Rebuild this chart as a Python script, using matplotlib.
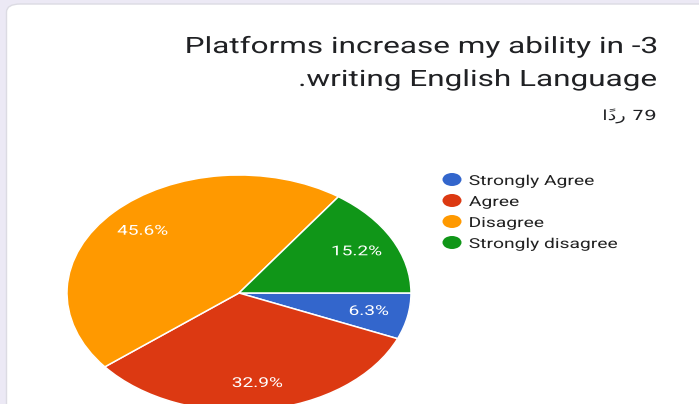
import matplotlib
matplotlib.use("Agg")
import matplotlib.pyplot as plt
from matplotlib.patches import FancyBboxPatch, Ellipse
from matplotlib.patheffects import AbstractPathEffect
from matplotlib.transforms import Affine2D

# Survey responses (79 in total)
categories = ["Strongly Agree", "Agree", "Disagree", "Strongly disagree"]
counts = [5, 26, 36, 12]
colors = ["#3366cc", "#dc3912", "#ff9900", "#109618"]
title_lines = ["Platforms increase my ability in -3", ".writing English Language"]
responses_label = "79 ردًا"

W, H = 699, 404
SX = 1.4  # horizontal stretch of the whole card


class StretchX(AbstractPathEffect):
    """Draw text glyphs widened horizontally around a chosen anchor."""

    def __init__(self, sx, anchor="center"):
        super().__init__()
        self._sx = sx
        self._anchor = anchor

    def draw_path(self, renderer, gc, tpath, affine, rgbFace=None):
        ext = tpath.get_extents(affine)
        x0 = {"left": ext.x0, "right": ext.x1,
              "center": 0.5 * (ext.x0 + ext.x1)}[self._anchor]
        stretch = Affine2D().translate(-x0, 0).scale(self._sx, 1).translate(x0, 0)
        renderer.draw_path(gc, tpath, affine + stretch, rgbFace)


def rtl_visual(s):
    """Lay out an RTL line for a left-to-right glyph renderer.

    Arabic words are reversed character by character, so each zero-width
    mark lands just before its base letter and is drawn over it.
    """
    out = []
    for w in reversed(s.split(" ")):
        if any("\u0600" <= ch <= "\u06ff" for ch in w):
            w = w[::-1]
        out.append(w)
    return " ".join(out)


fig = plt.figure(figsize=(W / 100, H / 100), dpi=100)
fig.patch.set_facecolor("#ece9f5")


def fx(px):
    return px / W


def fy(py):
    return 1 - py / H


# White card with rounded corner
card = FancyBboxPatch((fx(6.5), fy(420)), fx(720), 416 / H,
                      boxstyle="round,pad=0,rounding_size=0.02",
                      transform=fig.transFigure, facecolor="white",
                      edgecolor="#dcdbe3", linewidth=1.0, zorder=-1)
fig.patches.append(card)

font = ["Roboto", "DejaVu Sans"]
arfont = ["DejaVu Sans"]

right_fx = [StretchX(SX, "right")]
fig.text(fx(657), fy(53), title_lines[0], ha="right", va="baseline",
         fontsize=16.2, color="#202124", family=font, path_effects=right_fx)
fig.text(fx(657), fy(86), title_lines[1], ha="right", va="baseline",
         fontsize=16.2, color="#202124", family=font, path_effects=right_fx)
fig.text(fx(656), fy(120), rtl_visual(responses_label), ha="right",
         va="baseline", fontsize=10, color="#202124", family=arfont,
         path_effects=right_fx)

# Pie (stretched horizontally)
cx, cy, rx, ry = 239, 293, 172, 118
ax = fig.add_axes([fx(cx - rx), fy(cy + ry), 2 * rx / W, 2 * ry / H])
wedges, texts, autotexts = ax.pie(
    counts, colors=colors, startangle=0, counterclock=False,
    autopct="%1.1f%%", pctdistance=0.77,
    wedgeprops=dict(edgecolor="white", linewidth=1.1),
    textprops=dict(color="white", fontsize=9.8, family=font,
                   path_effects=[StretchX(SX, "center")]))
ax.set_aspect("auto")
ax.set_xlim(-1, 1)
ax.set_ylim(-1, 1)
ax.axis("off")

# Legend
leg_x_marker, leg_x_text = 452, 469
leg_y0, leg_dy = 179.5, 21
for i, (name, col) in enumerate(zip(categories, colors)):
    y = leg_y0 + i * leg_dy
    fig.patches.append(Ellipse((fx(leg_x_marker), fy(y)), 19 / W, 13 / H,
                               transform=fig.transFigure, facecolor=col,
                               edgecolor="none"))
    fig.text(fx(leg_x_text), fy(y), name, ha="left", va="center_baseline",
             fontsize=9.9, color="#222222", family=font,
             path_effects=[StretchX(SX, "left")])

fig.savefig("out.png", dpi=100)
